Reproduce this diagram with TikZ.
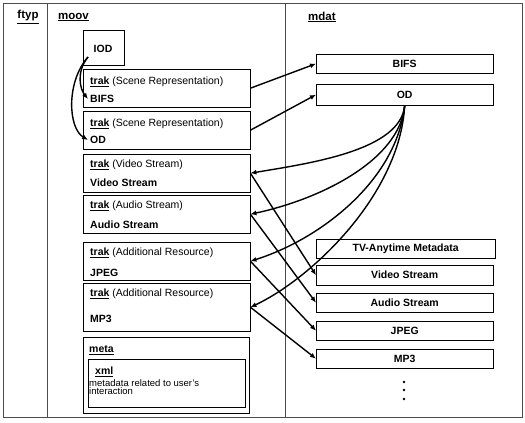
\documentclass[tikz,border=0pt]{standalone}
\usepackage{fontspec}
\setmainfont{Liberation Sans}
\usetikzlibrary{arrows.meta}
\begin{document}
\begin{tikzpicture}[x=1pt, y=-1pt,
    trakbox/.style={draw, anchor=north west, minimum width=167pt, inner sep=0pt},
    datbox/.style={draw, anchor=north west, minimum width=177pt, minimum height=19pt,
                   inner sep=0pt, font=\fontsize{10.5}{12}\selectfont\bfseries},
    lbl/.style={anchor=west, inner sep=0pt, font=\fontsize{10.5}{12}\selectfont},
    lblb/.style={lbl, font=\fontsize{10.5}{12}\selectfont\bfseries},
    head/.style={inner sep=0pt, font=\fontsize{11.5}{13}\selectfont\bfseries},
    arr/.style={-{Latex[length=6pt,width=5pt]}, line width=1.4pt}]
  \useasboundingbox (0,0) rectangle (525,423);
  % file frame: ftyp | moov | mdat
  \draw[line width=1pt, black!70] (3,3) rectangle (522,417);
  \draw[line width=1pt, black!70] (47,3) -- (47,417) (285,3) -- (285,417);
  \node[head] (ftyp) at (28,17) {\underline{ftyp}};
  \node[head, anchor=west] (moov) at (58,17) {\underline{moov}};
  \node[head, anchor=west] (mdat) at (308,17) {\underline{mdat}};

  % moov: IOD and the tracks
  \node[draw, anchor=north west, minimum width=41pt, minimum height=35pt] (iod) at (83,30) {};
  \node[lblb, anchor=center] (iodtxt) at (103,49) {IOD};
  \coordinate (iodout) at (88,57);

  \node[trakbox, minimum height=38pt] (trakbifs) at (83,69) {};
  \node[lbl] (trakbifsa) at (90,82) {\underline{\textbf{trak}} (Scene Representation)};
  \node[lblb] (trakbifsb) at (90,99) {BIFS};

  \node[trakbox, minimum height=38pt] (trakod) at (83,111) {};
  \node[lbl] (trakoda) at (90,124) {\underline{\textbf{trak}} (Scene Representation)};
  \node[lblb] (trakodb) at (90,140) {OD};

  \node[trakbox, minimum height=38pt] (trakvideo) at (83,154) {};
  \node[lbl] (trakvideoa) at (90,165) {\underline{\textbf{trak}} (Video Stream)};
  \node[lblb] (trakvideob) at (90,183) {Video Stream};

  \node[trakbox, minimum height=38pt] (trakaudio) at (83,195) {};
  \node[lbl] (trakaudioa) at (90,206) {\underline{\textbf{trak}} (Audio Stream)};
  \node[lblb] (trakaudiob) at (90,225) {Audio Stream};

  \node[trakbox, minimum height=38pt] (trakjpeg) at (83,242) {};
  \node[lbl] (trakjpega) at (90,253) {\underline{\textbf{trak}} (Additional Resource)};
  \node[lblb] (trakjpegb) at (90,273) {JPEG};

  \node[trakbox, minimum height=48pt] (trakmp3) at (83,283) {};
  \node[lbl] (trakmp3a) at (90,294) {\underline{\textbf{trak}} (Additional Resource)};
  \node[lblb] (trakmp3b) at (90,319) {MP3};

  \node[trakbox, minimum width=166pt, minimum height=76pt] (meta) at (83,337) {};
  \node[lblb] (metatxt) at (89,350) {\underline{meta}};
  \node[trakbox, minimum width=157pt, minimum height=48pt] (xml) at (88,359) {};
  \node[lblb] (xmltxt) at (95,372) {\underline{xml}};
  \node[lbl, anchor=north west, align=left, font=\fontsize{9.5}{8}\selectfont] (xmlnote) at (89,379)
    {metadata related to user's\\interaction};

  % mdat: the data
  \node[datbox] (datbifs) at (316,54) {BIFS};
  \node[datbox, minimum height=21pt] (datod) at (316,84) {OD};
  \node[datbox, minimum width=179pt] (dattva) at (316,239) {TV-Anytime Metadata};
  \node[datbox, minimum height=20pt] (datvideo) at (316,265) {Video Stream};
  \node[datbox] (dataudio) at (316,293) {Audio Stream};
  \node[datbox] (datjpeg) at (316,321) {JPEG};
  \node[datbox] (datmp3) at (316,349) {MP3};
  \foreach \y in {382,390,399}
    \fill (404,\y) circle (1.4pt);

  % IOD points to the scene tracks
  \draw[arr] (iodout) .. controls +(-12,15) and +(-8,-10) .. ([xshift=-2pt]trakbifsb.west);
  \draw[arr] (iodout) .. controls +(-22,25) and +(-20,-12) .. ([xshift=-2pt]trakodb.west);

  % scene tracks to their data
  \draw[arr] (trakbifs.east) -- (datbifs.west);
  \draw[arr] (trakod.east) -- (datod.west);

  % OD points to the media tracks
  \draw[arr] (datod.south) .. controls +(-4,45) and +(60,-10) .. (trakvideo.east);
  \draw[arr] (datod.south) .. controls +(-5,55) and +(70,-15) .. (trakaudio.east);
  \draw[arr] (datod.south) .. controls +(-8,75) and +(70,-22) .. (trakjpeg.east);
  \draw[arr] (datod.south) .. controls +(-5,90) and +(60,-28) .. (trakmp3.east);

  % media tracks to their data
  \draw[arr] (trakvideo.east) -- (datvideo.west);
  \draw[arr] (trakaudio.east) -- (dataudio.west);
  \draw[arr] (trakjpeg.east) -- (datjpeg.west);
  \draw[arr] (trakmp3.east) -- (datmp3.west);
\end{tikzpicture}
\end{document}
